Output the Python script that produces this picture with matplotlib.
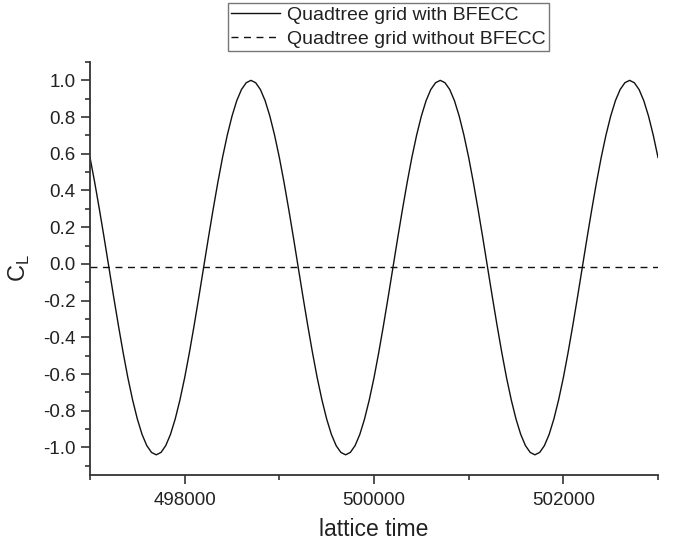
import matplotlib
matplotlib.use("Agg")
import matplotlib.pyplot as plt
from matplotlib.ticker import MultipleLocator

plt.rcParams['font.family'] = ['Liberation Sans', 'DejaVu Sans']

# lattice time samples (every 50 time units)
t = [497000 + 50 * i for i in range(121)]
# lift coefficient (one period = 40 samples)
period_vals = [0.580, 0.443, 0.295, 0.140, -0.020, -0.180, -0.335, -0.483, -0.620, -0.741,
               -0.845, -0.929, -0.990, -1.027, -1.040, -1.027, -0.990, -0.929, -0.845, -0.741,
               -0.620, -0.483, -0.335, -0.180, -0.020, 0.140, 0.295, 0.443, 0.580, 0.701,
               0.805, 0.889, 0.950, 0.987, 1.000, 0.987, 0.950, 0.889, 0.805, 0.701]
cl_bfecc = (period_vals * 3) + [0.580]

t_nobfecc = [497000, 503000]
cl_nobfecc = [-0.015, -0.015]

labels = ['Quadtree grid with BFECC', 'Quadtree grid without BFECC']
xticks = [498000, 500000, 502000]
yticks = [-1.0, -0.8, -0.6, -0.4, -0.2, 0.0, 0.2, 0.4, 0.6, 0.8, 1.0]

fig = plt.figure(figsize=(6.74, 5.43), dpi=100)
ax = fig.add_axes([90/674, 1-475/543, (658-90)/674, (475-62)/543])

l1, = ax.plot(t, cl_bfecc, color='#111111', lw=1.0, label=labels[0])
l2, = ax.plot(t_nobfecc, cl_nobfecc, color='#111111', lw=1.0, ls=(0, (5, 4)), label=labels[1])

ax.set_xlim(497000, 503000)
ax.set_ylim(-1.15, 1.1)
ax.set_xticks(xticks)
ax.set_xticklabels([str(v) for v in xticks])
ax.set_yticks(yticks)
ax.set_yticklabels(['%.1f' % v for v in yticks])
ax.xaxis.set_minor_locator(MultipleLocator(1000))
ax.yaxis.set_minor_locator(MultipleLocator(0.1))

for s in ['top', 'right']:
    ax.spines[s].set_visible(False)
for s in ['left', 'bottom']:
    ax.spines[s].set_color('#333333')
    ax.spines[s].set_linewidth(1.3)

ax.tick_params(which='major', direction='out', length=6.5, width=1.2, color='#333333',
               labelsize=13.5, labelcolor='#222222', pad=4)
ax.tick_params(which='minor', direction='out', length=3.5, width=1.2, color='#333333')
ax.tick_params(axis='x', which='major', pad=6)

ax.set_xlabel('lattice time', fontsize=16.5, color='#222222', labelpad=6)
ax.set_ylabel(r'C$_\mathregular{L}$', fontsize=17, color='#222222', labelpad=8)

leg = fig.legend(handles=[l1, l2], labels=labels, loc='upper left',
                 bbox_to_anchor=(228/674, 1-3/543), fontsize=14, frameon=True,
                 fancybox=False, edgecolor='#555555', borderpad=0.15,
                 handlelength=2.5, handletextpad=0.4, labelspacing=0.35,
                 borderaxespad=0)
leg.get_frame().set_linewidth(1.0)
for txt in leg.get_texts():
    txt.set_color('#222222')

fig.savefig('out.png', dpi=100)
